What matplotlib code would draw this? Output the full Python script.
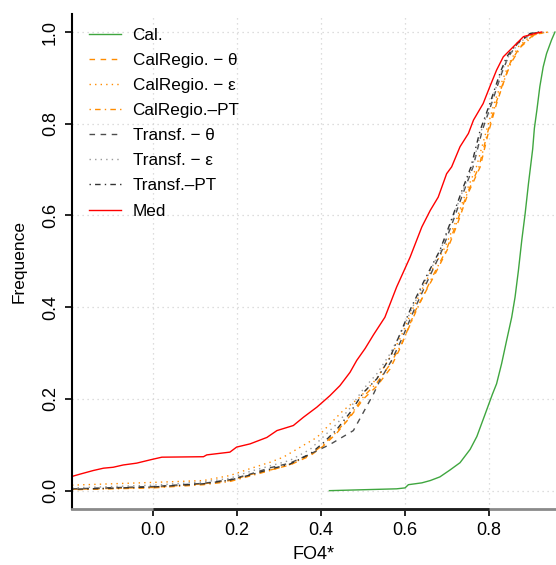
# Std
import numpy
import matplotlib
matplotlib.use("Agg")
import matplotlib.pyplot as plt

# Curves (x = FO4*, y = cumulative frequence)
cal_x = [0.42, 0.50, 0.58, 0.600, 0.608, 0.640, 0.660, 0.683, 0.707, 0.731, 0.755, 0.771, 0.790,
         0.808, 0.818, 0.830, 0.842, 0.854, 0.862, 0.870, 0.878, 0.886, 0.894, 0.898, 0.904, 0.908,
         0.914, 0.921, 0.929, 0.937, 0.949, 0.957]
cal_y = [0.0, 0.002, 0.004, 0.006, 0.013, 0.017, 0.022, 0.030, 0.045, 0.061, 0.090, 0.118, 0.165,
         0.210, 0.233, 0.277, 0.328, 0.378, 0.422, 0.480, 0.546, 0.604, 0.670, 0.700, 0.745, 0.790,
         0.830, 0.881, 0.924, 0.953, 0.983, 1.0]

med_x = [-0.193, -0.174, -0.142, -0.118, -0.095, -0.071, -0.039, -0.003, 0.021, 0.120, 0.128, 0.183,
         0.199, 0.231, 0.271, 0.295, 0.334, 0.358, 0.390, 0.421, 0.445, 0.469, 0.485, 0.505, 0.525,
         0.552, 0.580, 0.612, 0.640, 0.660, 0.679, 0.699, 0.711, 0.731, 0.751, 0.763, 0.786, 0.802,
         0.818, 0.834, 0.858, 0.882, 0.914, 0.925]
med_y = [0.031, 0.036, 0.044, 0.049, 0.051, 0.056, 0.060, 0.068, 0.073, 0.074, 0.078, 0.084, 0.095,
         0.102, 0.116, 0.131, 0.142, 0.160, 0.182, 0.207, 0.229, 0.258, 0.284, 0.310, 0.340, 0.378,
         0.444, 0.509, 0.575, 0.611, 0.640, 0.691, 0.706, 0.750, 0.779, 0.808, 0.844, 0.881, 0.917,
         0.946, 0.968, 0.990, 0.998, 1.0]

calregio_theta_x = [-0.193, 0.0, 0.12, 0.183, 0.231, 0.279, 0.326, 0.374, 0.405, 0.437, 0.469, 0.501,
                    0.533, 0.564, 0.588, 0.625, 0.668, 0.700, 0.725, 0.750, 0.779, 0.798, 0.818, 0.834,
                    0.850, 0.874, 0.906, 0.937]
calregio_theta_y = [0.003, 0.007, 0.015, 0.022, 0.035, 0.045, 0.056, 0.076, 0.097, 0.125, 0.160, 0.200,
                    0.228, 0.265, 0.310, 0.393, 0.466, 0.524, 0.582, 0.648, 0.706, 0.779, 0.844, 0.888,
                    0.932, 0.968, 0.994, 1.0]

calregio_eps_x = [-0.193, 0.0, 0.12, 0.183, 0.231, 0.279, 0.310, 0.390, 0.453, 0.493, 0.533, 0.564,
                  0.590, 0.620, 0.660, 0.695, 0.720, 0.745, 0.770, 0.792, 0.812, 0.830, 0.848, 0.870,
                  0.902, 0.935]
calregio_eps_y = [0.012, 0.018, 0.022, 0.033, 0.048, 0.062, 0.073, 0.116, 0.175, 0.204, 0.245, 0.290,
                  0.335, 0.400, 0.475, 0.530, 0.585, 0.650, 0.706, 0.779, 0.844, 0.890, 0.932, 0.968,
                  0.994, 1.0]

calregio_pt_x = [-0.193, 0.0, 0.12, 0.183, 0.231, 0.279, 0.326, 0.374, 0.405, 0.437, 0.469, 0.501,
                 0.533, 0.564, 0.592, 0.628, 0.665, 0.698, 0.722, 0.748, 0.776, 0.796, 0.816, 0.834,
                 0.852, 0.876, 0.908, 0.940]
calregio_pt_y = [0.002, 0.006, 0.013, 0.020, 0.032, 0.044, 0.057, 0.078, 0.100, 0.128, 0.163, 0.205,
                 0.235, 0.275, 0.320, 0.395, 0.466, 0.524, 0.582, 0.648, 0.706, 0.779, 0.844, 0.890,
                 0.932, 0.968, 0.994, 1.0]

transf_theta_x = [-0.193, 0.0, 0.12, 0.183, 0.231, 0.279, 0.326, 0.374, 0.420, 0.477, 0.525, 0.540,
                  0.568, 0.592, 0.622, 0.658, 0.688, 0.712, 0.738, 0.762, 0.784, 0.806, 0.830, 0.846,
                  0.868, 0.900, 0.925]
transf_theta_y = [0.004, 0.009, 0.016, 0.024, 0.036, 0.050, 0.060, 0.080, 0.100, 0.131, 0.211, 0.240,
                  0.284, 0.330, 0.395, 0.466, 0.524, 0.582, 0.648, 0.706, 0.786, 0.844, 0.910, 0.946,
                  0.975, 0.997, 1.0]

transf_eps_x = [-0.193, 0.0, 0.12, 0.183, 0.231, 0.279, 0.326, 0.374, 0.437, 0.469, 0.501, 0.533,
                0.564, 0.588, 0.618, 0.655, 0.686, 0.710, 0.736, 0.760, 0.782, 0.804, 0.828, 0.846,
                0.870, 0.902, 0.930]
transf_eps_y = [0.006, 0.012, 0.019, 0.027, 0.042, 0.054, 0.066, 0.090, 0.145, 0.180, 0.222, 0.255,
                0.298, 0.340, 0.400, 0.470, 0.528, 0.586, 0.650, 0.706, 0.786, 0.844, 0.910, 0.946,
                0.975, 0.997, 1.0]

transf_pt_x = [-0.193, 0.0, 0.12, 0.183, 0.231, 0.279, 0.326, 0.374, 0.405, 0.437, 0.469, 0.501,
               0.533, 0.564, 0.585, 0.615, 0.650, 0.683, 0.707, 0.733, 0.757, 0.779, 0.802, 0.826,
               0.842, 0.866, 0.898, 0.921]
transf_pt_y = [0.003, 0.008, 0.015, 0.023, 0.034, 0.047, 0.058, 0.080, 0.104, 0.133, 0.170, 0.214,
               0.244, 0.290, 0.335, 0.400, 0.466, 0.524, 0.582, 0.648, 0.706, 0.786, 0.844, 0.910,
               0.946, 0.975, 0.997, 1.0]

x_ticks = [0.0, 0.2, 0.4, 0.6, 0.8]
y_ticks = [0.0, 0.2, 0.4, 0.6, 0.8, 1.0]

ORANGE = "#FF8C00"
DASHED = (0, (4, 4))
DOTTED = (0, (1, 3))
DOTDASH = (0, (1, 3, 4, 3))
FONT_SIZE = 13
LEGEND_SIZE = 12.3


def curveSpecs():
    # label, x, y, color, linestyle
    return [
        ("Cal.", cal_x, cal_y, "#3FA63F", "-"),
        ("CalRegio. \u2212 \u03b8", calregio_theta_x, calregio_theta_y, ORANGE, DASHED),
        ("CalRegio. \u2212 \u03b5", calregio_eps_x, calregio_eps_y, ORANGE, DOTTED),
        ("CalRegio.\u2013PT", calregio_pt_x, calregio_pt_y, ORANGE, DOTDASH),
        ("Transf. \u2212 \u03b8", transf_theta_x, transf_theta_y, "#4D4D4D", DASHED),
        ("Transf. \u2212 \u03b5", transf_eps_x, transf_eps_y, "#9A9A9A", DOTTED),
        ("Transf.\u2013PT", transf_pt_x, transf_pt_y, "#333333", DOTDASH),
        ("Med", med_x, med_y, "#FF0000", "-"),
    ]


def setupAxes(ax):
    ax.set_xlim(-0.193, 0.9595)
    ax.set_ylim(-0.04, 1.04)
    # R-like look: only left and bottom axis lines
    ax.spines["top"].set_visible(False)
    ax.spines["right"].set_visible(False)
    ax.spines["left"].set_linewidth(1.5)
    ax.spines["left"].set_color("black")
    ax.spines["bottom"].set_linewidth(2.0)
    ax.spines["bottom"].set_color("#8A8A8A")
    # dark axis segment between first and last tick (x in data, y in axes fraction)
    ax.plot([x_ticks[0], x_ticks[-1]], [0, 0], transform=ax.get_xaxis_transform(),
            color="#1E1E1E", lw=2.0, clip_on=False, zorder=10, solid_capstyle="butt")
    ax.set_xticks(x_ticks)
    ax.set_yticks(y_ticks)
    ax.set_xticklabels(["{0:.1f}".format(t) for t in x_ticks])
    ax.set_yticklabels(["{0:.1f}".format(t) for t in y_ticks], rotation=90, va="center")
    ax.tick_params(axis="both", direction="out", length=5, width=1.2, labelsize=FONT_SIZE, pad=4.5)
    for t in x_ticks:
        ax.axvline(t, color="#D3D3D3", lw=0.9, linestyle=DOTTED, zorder=0)
    for t in y_ticks:
        ax.axhline(t, color="#D3D3D3", lw=0.9, linestyle=DOTTED, zorder=0)
    ax.set_xlabel("FO4*", fontsize=FONT_SIZE, labelpad=5)
    ax.set_ylabel("Frequence", fontsize=12.5, labelpad=11)


plt.rcParams["font.family"] = ["Liberation Sans", "DejaVu Sans"]
fig = plt.figure(figsize=(5.56, 5.65), dpi=100)
ax = fig.add_axes([72 / 556, (565 - 509) / 565, 1 - 72 / 556, (509 - 13.7) / 565])
setupAxes(ax)

for label, xs, ys, color, ls in curveSpecs():
    ax.plot(xs, ys, color=color, linestyle=ls, linewidth=1.0, label=label)

lgd = ax.legend(loc="upper left", bbox_to_anchor=(0.01, 0.996), frameon=False, fontsize=LEGEND_SIZE,
                handlelength=1.85, handletextpad=0.69, labelspacing=0.59, borderaxespad=0.32)

fig.savefig("out.png", dpi=100)
